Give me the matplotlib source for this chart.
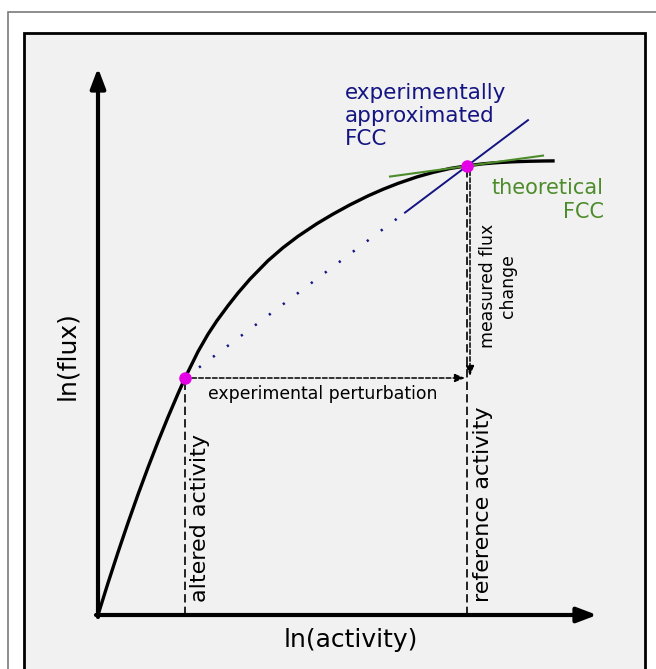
import matplotlib.pyplot as plt
from matplotlib.patches import Rectangle
import numpy as np

# curve (ln(activity), ln(flux)), arbitrary units
curve_x = [0.0, 0.1, 0.2, 0.3, 0.4, 0.5, 0.6, 0.7, 0.8, 0.87, 1.0, 1.1, 1.19, 1.3, 1.4,
           1.52, 1.7, 1.85, 2.0, 2.19, 2.35, 2.52, 2.7, 2.85, 3.0, 3.19, 3.35, 3.52,
           3.69, 3.85, 4.0, 4.15, 4.3, 4.45, 4.55]
curve_y = [0.0, 0.320, 0.627, 0.922, 1.205, 1.475, 1.733, 1.979, 2.213, 2.37, 2.634,
           2.808, 2.944, 3.093, 3.220, 3.359, 3.543, 3.673, 3.787, 3.914, 4.009, 4.102,
           4.191, 4.257, 4.316, 4.381, 4.426, 4.465, 4.492, 4.512, 4.524, 4.532, 4.537,
           4.540, 4.541]

altered = 0.87
altered_flux = 2.37
reference = 3.69
reference_flux = 4.49
theoretical_slope = 0.137
tangent_x = [2.92, 4.45]
secant_solid_x = [3.07, 4.30]

W, H = 656, 669
fig = plt.figure(figsize=(W / 100, H / 100), dpi=100)
ax = fig.add_axes([0, 0, 1, 1])
# origin of the diagram sits at pixel (98, 615), 100 px per unit
ax.set_xlim(-0.98, (W - 98) / 100)
ax.set_ylim(-(H - 615) / 100, 6.15)
ax.axis("off")

# frames
fig.patches.append(Rectangle((8, -20), 700, H - 12 + 20, transform=None,
                             facecolor="white", edgecolor="#7a7a7a", lw=1.2, zorder=-2))
fig.patches.append(Rectangle((24, -20), 645 - 24, H - 33 + 20, transform=None,
                             facecolor="#f1f1f1", edgecolor="black", lw=2.0, zorder=-1))

# axes arrows
arr = dict(arrowstyle="-|>,head_length=1.0,head_width=0.38", lw=3, color="black",
           shrinkA=0, shrinkB=0, mutation_scale=12)
ax.annotate("", xy=(0, 5.47), xytext=(0, -0.02), arrowprops=arr)
ax.annotate("", xy=(4.99, 0), xytext=(-0.02, 0), arrowprops=arr)

# drop lines
ax.plot([altered, altered], [0, altered_flux], color="black", lw=1.2, dashes=(5, 2.5))
ax.plot([reference, reference], [0, reference_flux], color="black", lw=1.2, dashes=(5, 2.5))

# perturbation and flux change arrows
small = dict(arrowstyle="-|>,head_length=0.5,head_width=0.2", lw=1.1, color="black",
             linestyle=(0, (3, 1.5)), shrinkA=0, shrinkB=0, mutation_scale=12)
ax.annotate("", xy=(reference - 0.02, altered_flux), xytext=(altered, altered_flux),
            arrowprops=small)
ax.annotate("", xy=(reference + 0.03, altered_flux + 0.02),
            xytext=(reference + 0.03, reference_flux - 0.05), arrowprops=small)

# curve
ax.plot(curve_x, curve_y, color="black", lw=2.4, solid_joinstyle="round", zorder=3)

# secant (experimentally approximated FCC)
sec_slope = (reference_flux - altered_flux) / (reference - altered)
sx = np.array([altered, secant_solid_x[0]])
ax.plot(sx, altered_flux + sec_slope * (sx - altered), color="#141482", lw=1.8,
        linestyle=(0, (0.9, 6.1)), zorder=2)
sx = np.array(secant_solid_x)
ax.plot(sx, altered_flux + sec_slope * (sx - altered), color="#141482", lw=1.4, zorder=4)

# tangent (theoretical FCC)
tx = np.array(tangent_x)
ax.plot(tx, reference_flux + theoretical_slope * (tx - reference), color="#4d8c2a", lw=1.5, zorder=4)

# points
ax.plot([altered, reference], [altered_flux, reference_flux], "o", color="#e600e6",
        markersize=8, zorder=5)

# labels
ax.text(-0.31, 2.59, "ln(flux)", rotation=90, fontsize=18, ha="center", va="center")
ax.text(2.53, -0.25, "ln(activity)", fontsize=18, ha="center", va="center")
ax.text(1.02, 0.13, "altered activity", rotation=90, fontsize=16, ha="left", va="center",
        rotation_mode="anchor")
ax.text(3.85, 0.13, "reference activity", rotation=90, fontsize=16, ha="left", va="center",
        rotation_mode="anchor")
ax.text(2.25, 2.21, "experimental perturbation", fontsize=12.4, ha="center", va="center")
ax.text(4.00, 3.29, "measured flux\nchange", rotation=90, fontsize=12.4, ha="center",
        va="center", multialignment="center")
ax.text(2.47, 5.32, "experimentally\napproximated\nFCC", fontsize=15.5, color="#141482",
        ha="left", va="top")
ax.text(5.06, 4.15, "theoretical\nFCC", fontsize=15, color="#4d8c2a", ha="right",
        va="center", multialignment="right")

fig.savefig("out.png", dpi=100)
